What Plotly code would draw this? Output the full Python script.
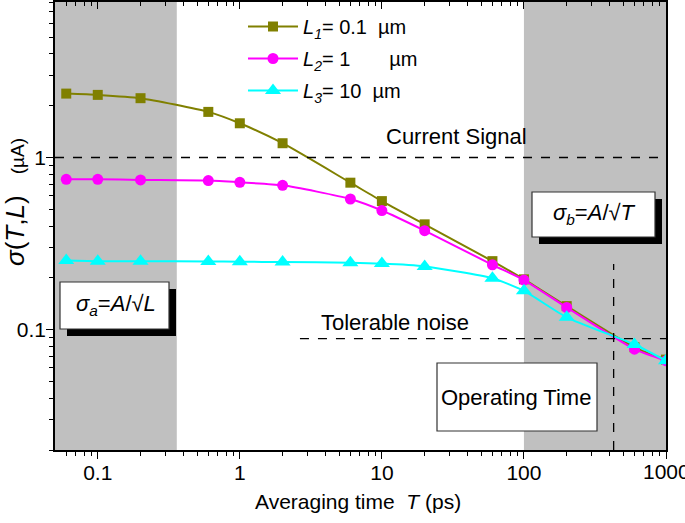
import math
import plotly.graph_objects as go

# ---------------- data ----------------
T = [0.06, 0.1, 0.2, 0.6, 1, 2, 6, 10, 20, 60, 100, 200, 600, 1000]
sigma_L1 = [2.35, 2.31, 2.21, 1.84, 1.58, 1.21, 0.714, 0.558, 0.409, 0.250, 0.196, 0.137, 0.079, 0.067]
sigma_L2 = [0.747, 0.747, 0.741, 0.734, 0.717, 0.689, 0.574, 0.492, 0.376, 0.238, 0.194, 0.1345, 0.077, 0.066]
sigma_L3 = [0.252, 0.250, 0.250, 0.249, 0.248, 0.247, 0.245, 0.242, 0.233, 0.199, 0.168, 0.118, 0.082, 0.066]

NB = "\u00a0"
series_names = [
    "<i>L</i><sub><i>1</i></sub>= 0.1" + NB * 2 + "µm",
    "<i>L</i><sub><i>2</i></sub>= 1" + NB * 7 + "µm",
    "<i>L</i><sub><i>3</i></sub>= 10" + NB * 2 + "µm",
]
series_colors = ["#808000", "#FF00FF", "#00FFFF"]
series_symbols = ["square", "circle", "triangle-up"]
series_sizes = [10, 11, 14]

x_tickvals = [0.1, 1, 10, 100, 1000]
x_ticktext = ["0.1", "1", "10", "100", "1000"]
x_minor = [0.06, 0.07, 0.08, 0.09, 0.2, 0.3, 0.4, 0.5, 0.6, 0.7, 0.8, 0.9,
           2, 3, 4, 5, 6, 7, 8, 9, 20, 30, 40, 50, 60, 70, 80, 90,
           200, 300, 400, 500, 600, 700, 800, 900]
y_tickvals = [0.1, 1]
y_ticktext = ["0.1", "1"]
y_minor = [0.02, 0.03, 0.04, 0.05, 0.06, 0.07, 0.08, 0.09,
           0.2, 0.3, 0.4, 0.5, 0.6, 0.7, 0.8, 0.9, 2, 3, 4, 5, 6, 7, 8]

x_range = [0.05, 1000]
y_range = [0.02, 8]
gray_left = [0.05, 0.36]
gray_right = [100, 1000]
current_signal = 1.0
tolerable_noise = 0.0886
tolerable_start = 2.65
operating_time = 428
operating_top = 0.241

# ---------------- geometry helpers ----------------
W, H = 685, 523
PL, PR, PT, PB = 55, 666, 2, 450


def px(xp):
    return (xp - PL) / (PR - PL)


def py(yp):
    return (PB - yp) / (PB - PT)


FONT = "Arial, Liberation Sans, sans-serif"

fig = go.Figure()
ys = [sigma_L1, sigma_L2, sigma_L3]
for i in range(3):
    fig.add_trace(go.Scatter(
        x=T, y=ys[i], name=series_names[i], mode="lines+markers",
        line=dict(color=series_colors[i], width=2, shape="spline", smoothing=0.6),
        marker=dict(symbol=series_symbols[i], size=series_sizes[i], color=series_colors[i]),
        legendgroup="g%d" % i,
    ))

# invisible trace to activate the top axis
fig.add_trace(go.Scatter(x=T, y=sigma_L1, xaxis="x2", mode="markers",
                         marker=dict(opacity=0), showlegend=False, hoverinfo="skip"))

shapes = []
for g in (gray_left, gray_right):
    shapes.append(dict(type="rect", xref="x", yref="paper", x0=g[0], x1=g[1], y0=0, y1=1,
                       fillcolor="#C0C0C0", line=dict(width=0), layer="below"))
shapes.append(dict(type="line", xref="x", yref="y", x0=x_range[0], x1=x_range[1],
                   y0=current_signal, y1=current_signal,
                   line=dict(color="black", width=1.3, dash="dash")))
shapes.append(dict(type="line", xref="x", yref="y", x0=tolerable_start, x1=x_range[1],
                   y0=tolerable_noise, y1=tolerable_noise,
                   line=dict(color="black", width=1.3, dash="dash")))
shapes.append(dict(type="line", xref="x", yref="y", x0=operating_time, x1=operating_time,
                   y0=y_range[0], y1=operating_top,
                   line=dict(color="black", width=1.3, dash="dash")))


def shadow_box(x0, y0, x1, y1, off=7, shadow=True):
    if shadow:
        shapes.append(dict(type="rect", xref="paper", yref="paper",
                           x0=px(x0 + off), x1=px(x1 + off), y0=py(y1 + off), y1=py(y0 + off),
                           fillcolor="black", line=dict(width=0)))
    shapes.append(dict(type="rect", xref="paper", yref="paper",
                       x0=px(x0), x1=px(x1), y0=py(y1), y1=py(y0),
                       fillcolor="white", line=dict(color="#333333", width=1.2)))


shadow_box(60, 282, 169, 329)
shadow_box(532, 192, 655, 237)
shadow_box(437, 363, 597, 431, shadow=False)


def note(text, xp, yp, size=22, angle=0):
    return dict(text=text, x=px(xp), y=py(yp), xref="paper", yref="paper",
                xanchor="center", yanchor="middle", showarrow=False, textangle=angle,
                font=dict(size=size, color="black", family=FONT))


annotations = [
    note("Current Signal", 456, 136),
    note("Tolerable noise", 395, 322),
    note("Operating Time", 516, 397),
    note("<i>σ</i><sub><i>a</i></sub>=<i>A</i>/√<i>L</i>", 116, 305, size=22),
    note("<i>σ</i><sub><i>b</i></sub>=<i>A</i>/√<i>T</i>", 594, 214, size=22),
    note("Averaging time" + NB * 2 + "<i>T</i> (ps)", 358, 501, size=21),
    note("<span style='font-size:26px'><i>σ</i>(<i>T</i>,<i>L</i>)</span>" + NB * 4 + "(µA)",
         15, 202, size=19, angle=-90),
    # last x tick label, which runs past the right edge of the figure as in the original
    dict(text=x_ticktext[-1], x=math.log10(x_tickvals[-1]), xref="x", y=py(471), yref="paper",
         xanchor="center", yanchor="middle", showarrow=False,
         font=dict(size=21, color="black", family=FONT)),
]

log_xr = [math.log10(x_range[0]), math.log10(x_range[1])]
log_yr = [math.log10(y_range[0]), math.log10(y_range[1])]

fig.update_layout(
    width=W, height=H, autosize=False,
    margin=dict(l=PL, r=W - PR, t=PT, b=H - PB),
    paper_bgcolor="white", plot_bgcolor="white",
    font=dict(family=FONT, size=21, color="black"),
    shapes=shapes, annotations=annotations,
    showlegend=True,
    legend=dict(x=px(243), y=py(7), xanchor="left", yanchor="top",
                bgcolor="rgba(0,0,0,0)", font=dict(size=20, family=FONT),
                itemwidth=50, traceorder="grouped", tracegroupgap=3),
    xaxis=dict(type="log", range=log_xr, showline=True, linecolor="black", linewidth=1.5,
               mirror=True, ticks="outside", ticklen=7, tickwidth=1.3, tickcolor="black",
               tickvals=x_tickvals, ticktext=x_ticktext[:-1] + [""], tickfont=dict(size=21),
               ticklabelstandoff=-4, automargin=False,
               showgrid=False, zeroline=False,
               minor=dict(tickvals=x_minor, ticks="outside", ticklen=4, tickwidth=1.2,
                          tickcolor="black", showgrid=False)),
    xaxis2=dict(type="log", range=log_xr, overlaying="x", side="top", showline=True,
                linecolor="black", linewidth=1.5, ticks="inside", ticklen=7, tickwidth=1.3,
                tickcolor="black", tickvals=x_tickvals, showticklabels=False,
                showgrid=False, zeroline=False, automargin=False,
                minor=dict(tickvals=x_minor, ticks="inside", ticklen=4, tickwidth=1.2,
                           tickcolor="black", showgrid=False)),
    yaxis=dict(type="log", range=log_yr, showline=True, linecolor="black", linewidth=1.5,
               mirror=True, ticks="outside", ticklen=7, tickwidth=1.3, tickcolor="black",
               tickvals=y_tickvals, ticktext=y_ticktext, tickfont=dict(size=21),
               ticklabelstandoff=-4, automargin=False,
               showgrid=False, zeroline=False,
               minor=dict(tickvals=y_minor, ticks="outside", ticklen=4, tickwidth=1.2,
                          tickcolor="black", showgrid=False)),
)

fig.write_html(
    "out.html", config={"displayModeBar": False},
    post_script=("document.documentElement.style.overflow='hidden';"
                 "document.body.style.overflow='hidden';"
                 "document.body.style.margin='0';document.body.style.padding='0';"))
